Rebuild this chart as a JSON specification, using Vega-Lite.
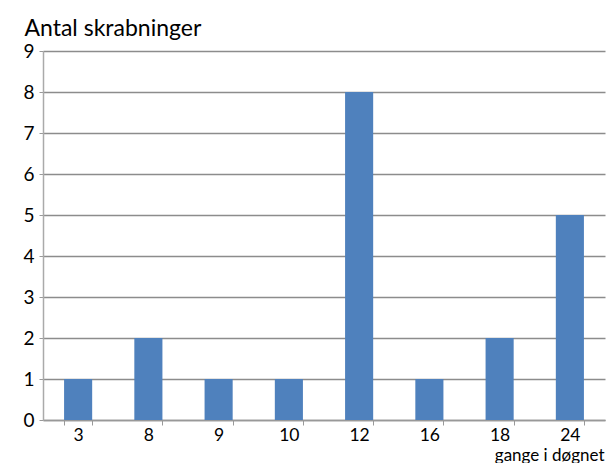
{
  "$schema": "https://vega.github.io/schema/vega-lite/v6.json",
  "width": 562,
  "height": 369,
  "autosize": {"type": "none"},
  "padding": {"left": 43, "top": 51, "right": 4, "bottom": 43},
  "background": "white",
  "config": {
    "font": "Lato",
    "view": {"stroke": null},
    "axis": {"labelFont": "Lato", "titleFont": "Lato", "labelColor": "#000", "titleColor": "#000", "titleFontWeight": "normal"}
  },
  "data": {
    "values": [
      {"gange": "3", "antal": 1},
      {"gange": "8", "antal": 2},
      {"gange": "9", "antal": 1},
      {"gange": "10", "antal": 1},
      {"gange": "12", "antal": 8},
      {"gange": "16", "antal": 1},
      {"gange": "18", "antal": 2},
      {"gange": "24", "antal": 5}
    ]
  },
  "mark": {"type": "bar", "color": "#4f81bd"},
  "encoding": {
    "x": {
      "field": "gange",
      "type": "ordinal",
      "sort": null,
      "scale": {"paddingInner": 0.6, "paddingOuter": 0.3},
      "axis": {
        "title": "gange i døgnet",
        "titleFontSize": 17,
        "titleAnchor": "end",
        "titleAlign": "right",
        "titleBaseline": "alphabetic",
        "titleX": 561,
        "titleY": 40,
        "labelAngle": 0,
        "labelFontSize": 17.5,
        "labelPadding": 1,
        "tickBand": "extent",
        "tickSize": 5,
        "tickColor": "#999",
        "domainColor": "#999",
        "domainWidth": 1.5,
        "grid": false
      }
    },
    "y": {
      "field": "antal",
      "type": "quantitative",
      "scale": {"domain": [0, 9], "nice": false},
      "axis": {
        "title": "Antal skrabninger",
        "titleFontSize": 23,
        "titleAngle": 0,
        "titleAlign": "left",
        "titleBaseline": "alphabetic",
        "titleX": -19,
        "titleY": -16,
        "values": [0, 1, 2, 3, 4, 5, 6, 7, 8, 9],
        "labelFontSize": 19,
        "labelPadding": 5,
        "tickSize": 4,
        "tickColor": "#999",
        "domainColor": "#aaa",
        "domainWidth": 1.5,
        "grid": true,
        "gridColor": "#8c8c8c",
        "gridWidth": 1.5
      }
    }
  }
}
